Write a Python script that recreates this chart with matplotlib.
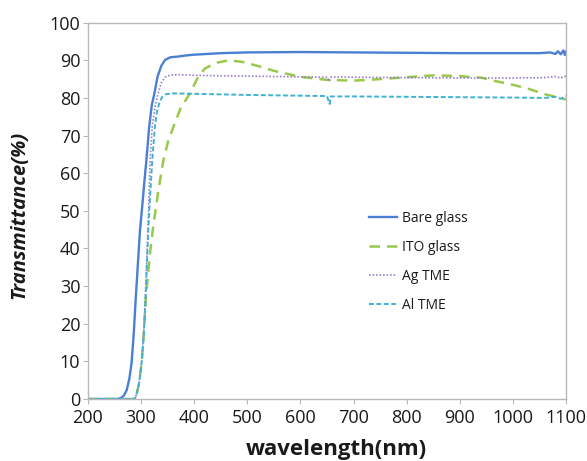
import matplotlib
matplotlib.use('Agg')
import matplotlib.pyplot as plt

plt.rcParams['font.family'] = ['Open Sans', 'DejaVu Sans']

# measured transmittance spectra (wavelength in nm, transmittance in %)
bare_wl = [200, 255, 263, 268, 273, 278, 282, 286, 290, 294, 298, 302, 306, 310, 315,
           320, 325, 331, 338, 345, 355, 370, 385, 400, 450, 500, 600, 700, 800, 900,
           1000, 1050, 1070, 1080, 1085, 1090, 1095, 1098, 1100]
bare_t = [0, 0, 0.3, 1, 2.4, 5.5, 9.5, 17, 27, 36, 45, 51, 57.5, 63.5, 72,
          78, 81.2, 85.7, 88.5, 90.1, 90.8, 91.0, 91.3, 91.5, 91.9, 92.1, 92.2, 92.1, 92.0, 91.9,
          91.9, 91.9, 92.1, 91.7, 92.4, 91.6, 92.6, 91.4, 92.3]

ito_wl = [200, 288, 291, 296, 301, 305, 309, 313, 317, 322, 332, 342, 351, 361, 375,
          392, 407, 420, 440, 465, 490, 520, 550, 600, 650, 700, 750, 800, 850, 900,
          940, 960, 1000, 1030, 1060, 1100]
ito_t = [0, 0, 1, 4, 9.5, 17, 27, 33, 39, 45, 55, 63.5, 68.5, 72.4, 77.5,
         81.2, 85.5, 87.8, 89.3, 90.0, 89.6, 88.5, 87.2, 85.6, 84.8, 84.6, 85.0, 85.5, 86.0, 85.8,
         85.4, 84.7, 83.5, 82.4, 81.0, 79.6]

ag_wl = [200, 286, 291, 296, 301, 305, 308, 311, 314, 317, 321, 326, 332, 338, 345,
         355, 370, 400, 500, 600, 650, 655, 658, 700, 800, 900, 1000, 1060, 1080, 1090, 1100]
ag_t = [0, 0, 1, 4, 10, 18, 27, 38, 50, 63.5, 72.4, 77.5, 81.2, 84.0, 85.5,
        86.1, 86.2, 86.0, 85.8, 85.6, 85.5, 84.4, 85.6, 85.5, 85.4, 85.3, 85.3, 85.4, 85.7, 85.3, 85.8]

al_wl = [200, 288, 291, 296, 301, 305, 308.5, 311, 313.5, 317, 321, 326, 330, 335, 340,
         347, 360, 400, 500, 600, 650, 653, 655, 657, 700, 800, 900, 1000, 1060, 1080, 1090, 1100]
al_t = [0, 0, 1, 4, 9.5, 17, 27, 36, 45, 54, 63.5, 72.4, 76.5, 79.0, 80.3,
        81.0, 81.2, 81.1, 80.8, 80.6, 80.5, 79.2, 78.4, 80.4, 80.4, 80.3, 80.2, 80.1, 80.0, 80.3, 79.8, 80.5]

fig = plt.figure(figsize=(5.87, 4.61), dpi=100)
ax = fig.add_axes([0.1499, 0.1345, 0.8143, 0.8163])

ax.plot(bare_wl, bare_t, color='#4a7fd4', lw=1.7, label='Bare glass')
ax.plot(ito_wl, ito_t, color='#99c94a', lw=1.8, dashes=(4.2, 2.8), label='ITO glass')
ax.plot(ag_wl, ag_t, color='#9c82c8', lw=1.2, dashes=(1, 1.1), label='Ag TME')
ax.plot(al_wl, al_t, color='#3eb2d6', lw=1.4, dashes=(2.5, 1.3), label='Al TME')

ax.set_xlim(200, 1100)
ax.set_ylim(0, 100)
ax.set_xticks(range(200, 1101, 100))
ax.set_yticks(range(0, 101, 10))

for sp in ax.spines.values():
    sp.set_color('#b8b8b8')
    sp.set_linewidth(1.0)
ax.tick_params(direction='out', length=3.5, width=0.8, color='#b8b8b8',
               labelsize=13, labelcolor='#1a1a1a', pad=2)
ax.tick_params(axis='x', pad=4)

ax.set_xlabel('wavelength(nm)', fontsize=16, fontweight='bold', color='#1a1a1a')
ax.xaxis.set_label_coords(0.52, -0.105)
ax.set_ylabel('Transmittance(%)', fontsize=14.5, fontweight='bold', style='italic',
              color='#1a1a1a')
ax.yaxis.set_label_coords(-0.122, 0.49)

leg = ax.legend(loc='upper left', bbox_to_anchor=(0.588, 0.50), frameon=False,
                fontsize=10, handlelength=2.0, handletextpad=0.4, labelspacing=1.0,
                borderpad=0, borderaxespad=0)
for t in leg.get_texts():
    t.set_color('#1a1a1a')

fig.savefig('out.png', dpi=100)
